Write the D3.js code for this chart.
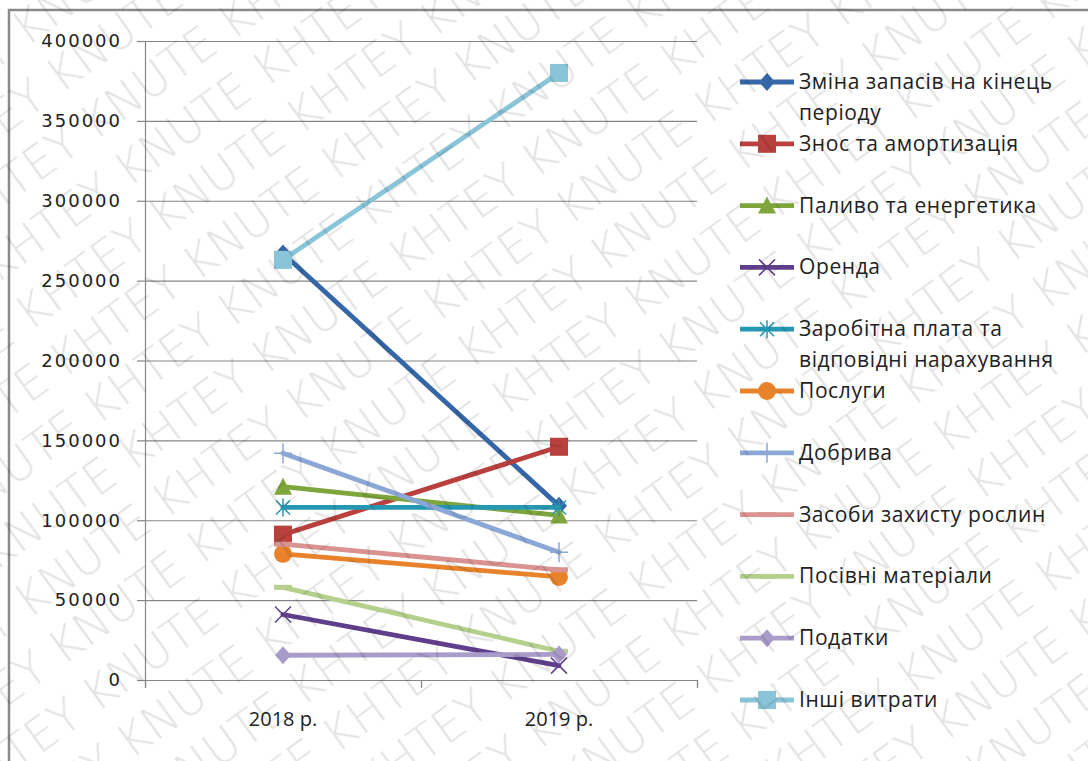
<!DOCTYPE html>
<html>
<head>
<meta charset="utf-8">
<script src="https://cdn.jsdelivr.net/npm/d3@7"></script>
<style>
  body { margin: 0; background: #fff; }
  svg { display: block; }
  .ylab text { font-family: "DejaVu Sans", sans-serif; font-size: 18px; letter-spacing: 2px; fill: #222; }
  .xlab text { font-family: "Open Sans", sans-serif; font-size: 20px; fill: #222; }
  .legend text { font-family: "Open Sans", sans-serif; font-size: 21px; letter-spacing: 0.6px; fill: #222; }
  .wmtext { font-family: "DejaVu Sans", sans-serif; font-size: 46px; font-weight: 200; fill: #000; fill-opacity: 0.11; }
</style>
</head>
<body>
<svg id="chart"></svg>
<script>
// Chart data
const categories = ['2018 р.', '2019 р.'];
const seriesNames = [
    ['Зміна запасів на кінець', 'періоду'],
    ['Знос та амортизація'],
    ['Паливо та енергетика'],
    ['Оренда'],
    ['Заробітна плата та', 'відповідні нарахування'],
    ['Послуги'],
    ['Добрива'],
    ['Засоби захисту рослин'],
    ['Посівні матеріали'],
    ['Податки'],
    ['Інші витрати']
];
const values2018 = [267000, 91000, 121000, 41000, 108000, 79000, 142000, 85000, 58000, 15500, 263000];
const values2019 = [109000, 146000, 103000, 9000, 108000, 64500, 80000, 69000, 18000, 16000, 380000];
const yTicks = [0, 50000, 100000, 150000, 200000, 250000, 300000, 350000, 400000];
const watermarkWords = 'KNUTE KHTEY ';

const seriesColors = ['#3566a6', '#b9403d', '#7fa63c', '#5f3f8c', '#2597b1', '#e8832c',
                      '#8aa7d6', '#da9391', '#b5d08d', '#a99cca', '#89c4d9'];
const seriesMarkers = ['diamond', 'square', 'triangle', 'x', 'star', 'circle',
                       'plus', 'dash', 'dash', 'diamond', 'square'];

const W = 1088, H = 761;
const svg = d3.select('#chart').attr('width', W).attr('height', H);

// Outer frame
svg.append('rect')
    .attr('x', 9).attr('y', 10)
    .attr('width', W + 20).attr('height', H - 4)
    .attr('fill', '#fff')
    .attr('stroke', '#8a8a8a')
    .attr('stroke-width', 2.5);

// Scales
const plot = {left: 145, right: 697, top: 41, bottom: 680};
const x = d3.scaleBand().domain(categories).range([plot.left, plot.right]);
const y = d3.scaleLinear().domain([0, 400000]).range([plot.bottom, plot.top]);
const cx = function(c){ return x(c) + x.bandwidth() / 2; };

// Horizontal grid lines
const grid = svg.append('g')
    .attr('transform', 'translate(' + plot.left + ',0)')
    .call(d3.axisLeft(y).tickValues(yTicks).tickSize(-(plot.right - plot.left)).tickFormat(''));
grid.select('.domain').remove();
grid.selectAll('line').attr('stroke', '#868686').attr('stroke-width', 1.2);

// Y axis with labels
const yAxis = svg.append('g')
    .attr('class', 'ylab')
    .attr('transform', 'translate(' + plot.left + ',0)')
    .call(d3.axisLeft(y).tickValues(yTicks).tickSize(8).tickPadding(15).tickFormat(d3.format('d')));
yAxis.attr('font-size', null).attr('font-family', null);
yAxis.select('.domain').attr('stroke', '#868686').attr('stroke-width', 1.2);
yAxis.selectAll('line').attr('stroke', '#868686').attr('stroke-width', 1.2);

// X axis: boundary ticks and category labels
const xEdges = d3.scaleLinear().domain([0, categories.length]).range([plot.left, plot.right]);
const xAxis = svg.append('g')
    .attr('transform', 'translate(0,' + plot.bottom + ')')
    .call(d3.axisBottom(xEdges).tickValues(d3.range(categories.length + 1)).tickSize(8).tickFormat(''));
xAxis.select('.domain').attr('stroke', '#868686').attr('stroke-width', 1.2);
xAxis.selectAll('line').attr('stroke', '#868686').attr('stroke-width', 1.2);

const xLab = svg.append('g')
    .attr('class', 'xlab')
    .attr('transform', 'translate(0,' + plot.bottom + ')')
    .call(d3.axisBottom(x).tickSize(0).tickPadding(32));
xLab.select('.domain').remove();
xLab.attr('font-size', null).attr('font-family', null);

// Marker shapes
function drawMarker(g, type, color) {
    if (type === 'diamond') {
        g.append('path').attr('d', 'M0,-9L8,0L0,9L-8,0Z').attr('fill', color);
    } else if (type === 'square') {
        g.append('rect').attr('x', -9).attr('y', -9).attr('width', 18).attr('height', 18).attr('fill', color);
    } else if (type === 'triangle') {
        g.append('path').attr('d', 'M0,-9L9,8L-9,8Z').attr('fill', color);
    } else if (type === 'circle') {
        g.append('circle').attr('r', 9).attr('fill', color);
    } else if (type === 'x') {
        g.append('path').attr('d', 'M-8,-8L8,8M-8,8L8,-8').attr('stroke', color)
            .attr('stroke-width', 1.5).attr('fill', 'none');
    } else if (type === 'star') {
        g.append('path').attr('d', 'M-7,-7L7,7M-7,7L7,-7M0,-9L0,9').attr('stroke', color)
            .attr('stroke-width', 1.5).attr('fill', 'none');
    } else if (type === 'plus') {
        g.append('path').attr('d', 'M-9,0L9,0M0,-10L0,10').attr('stroke', color)
            .attr('stroke-width', 1.5).attr('fill', 'none');
    } else if (type === 'dash') {
        g.append('rect').attr('x', -9).attr('y', -2.5).attr('width', 18).attr('height', 5).attr('fill', color);
    }
}

// Series lines and markers
const line = d3.line()
    .x(function(d){ return cx(d.cat); })
    .y(function(d){ return y(d.value); });

seriesNames.forEach(function(name, i) {
    const data = [
        {cat: categories[0], value: values2018[i]},
        {cat: categories[1], value: values2019[i]}
    ];
    const g = svg.append('g');
    g.append('path')
        .datum(data)
        .attr('fill', 'none')
        .attr('stroke', seriesColors[i])
        .attr('stroke-width', 4.8)
        .attr('stroke-linecap', 'round')
        .attr('d', line);
    data.forEach(function(d) {
        const m = g.append('g').attr('transform', 'translate(' + cx(d.cat) + ',' + y(d.value) + ')');
        drawMarker(m, seriesMarkers[i], seriesColors[i]);
    });
});

// Legend
const legend = svg.append('g').attr('class', 'legend');
const legendTop = 82, legendStep = 61.8;
seriesNames.forEach(function(name, i) {
    const ly = legendTop + i * legendStep;
    const item = legend.append('g').attr('transform', 'translate(0,' + ly + ')');
    item.append('line')
        .attr('x1', 740).attr('x2', 794)
        .attr('stroke', seriesColors[i]).attr('stroke-width', 4.8);
    const m = item.append('g').attr('transform', 'translate(767,0)');
    drawMarker(m, seriesMarkers[i], seriesColors[i]);
    name.forEach(function(part, k) {
        item.append('text')
            .attr('x', 799)
            .attr('y', 7 + k * 31)
            .text(part);
    });
});

// Watermark: tiled text pattern over the whole picture
const probe = svg.append('text').attr('class', 'wmtext').attr('xml:space', 'preserve')
    .style('white-space', 'pre').text(watermarkWords);
const tileW = probe.node().getComputedTextLength();
probe.remove();

const pattern = svg.append('defs').append('pattern')
    .attr('id', 'wm')
    .attr('patternUnits', 'userSpaceOnUse')
    .attr('width', tileW).attr('height', 58)
    .attr('patternTransform', 'translate(0,10) rotate(-36)');
pattern.append('text')
    .attr('class', 'wmtext')
    .style('white-space', 'pre')
    .attr('x', 0).attr('y', 46)
    .text(watermarkWords);

svg.append('rect')
    .attr('width', W).attr('height', H)
    .attr('fill', 'url(#wm)')
    .style('pointer-events', 'none');
</script>
</body>
</html>
